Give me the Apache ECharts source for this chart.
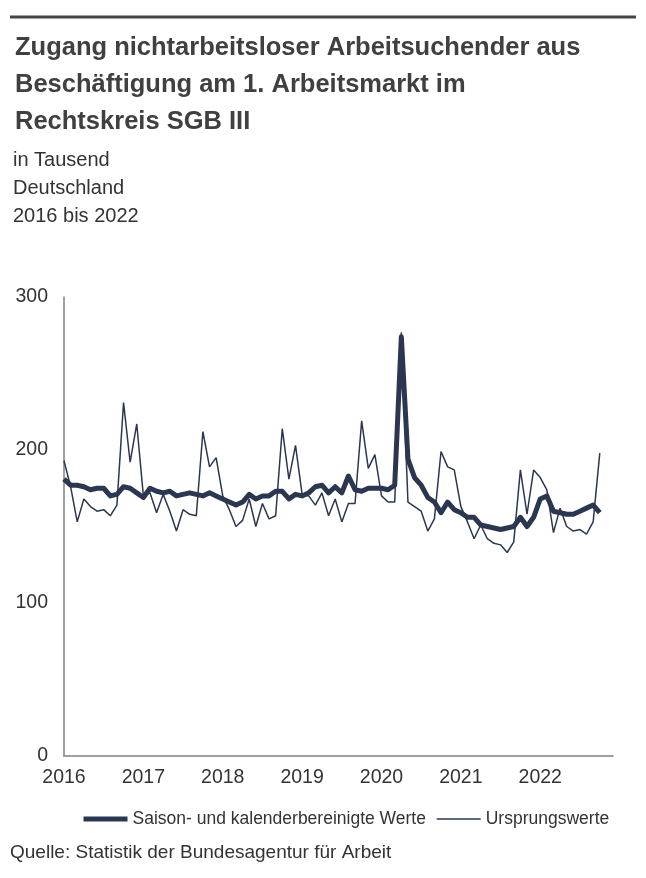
<!DOCTYPE html>
<html>
<head>
<meta charset="utf-8">
<script src="https://cdn.jsdelivr.net/npm/echarts@6/dist/echarts.min.js"></script>
<style>
html,body{margin:0;padding:0;background:#fff;}
#chart{width:646px;height:878px;}
</style>
</head>
<body>
<div id="chart"></div>
<script>
// Monthly categories Jan 2016 .. Dec 2022 (data through Oct 2022)
var years = [2016, 2017, 2018, 2019, 2020, 2021, 2022];
var categories = [];
years.forEach(function (y) {
  for (var m = 1; m <= 12; m++) categories.push(y + '-' + (m < 10 ? '0' + m : m));
});

// Saison- und kalenderbereinigte Werte (in Tausend)
var saisonWerte = [
  181, 177, 177, 176, 174, 175, 175, 170, 171, 176, 175, 172,
  169, 175, 173, 172, 173, 170, 171, 172, 171, 170, 172, 170,
  168, 166, 164, 166, 171, 168, 170, 170, 173, 173, 168, 171,
  170, 172, 176, 177, 172, 176, 172, 183, 174, 173, 175, 175,
  175, 174, 177, 274, 194, 182, 177, 169, 166, 159, 166, 161,
  159, 156, 156, 151, 150, 149, 148, 149, 150, 156, 150, 156,
  168, 170, 160, 159, 158, 158, 160, 162, 164, 159
];

// Ursprungswerte (in Tausend)
var ursprungsWerte = [
  193, 176, 153, 168, 163, 160, 161, 157, 164, 231, 192, 217,
  170, 172, 159, 171, 160, 147, 161, 158, 157, 212, 189, 195,
  170, 161, 150, 154, 168, 150, 165, 155, 157, 214, 181, 203,
  171, 170, 164, 172, 157, 168, 153, 165, 165, 219, 188, 197,
  170, 166, 166, 277, 166, 163, 160, 147, 155, 199, 189, 187,
  163, 153, 142, 151, 142, 139, 138, 133, 140, 187, 158, 187,
  182, 174, 146, 162, 150, 147, 148, 145, 153, 198
];

var yTicks = [0, 100, 200, 300];

var lineColor = '#2b3650';
var font = '"Liberation Sans", Arial, sans-serif';
var hiddenSymbol = {opacity: 0, color: 'rgba(0,0,0,0)', borderWidth: 0};

var chart = echarts.init(document.getElementById('chart'), null, {renderer: 'canvas'});
chart.setOption({
  backgroundColor: '#ffffff',
  animation: false,
  title: [
    {
      text: 'Zugang nichtarbeitsloser Arbeitsuchender aus\nBeschäftigung am 1. Arbeitsmarkt im\nRechtskreis SGB III',
      left: 10, top: 24,
      textStyle: {fontFamily: font, fontSize: 25.5, fontWeight: 'bold', color: '#404040', lineHeight: 37}
    },
    {
      text: 'in Tausend\nDeutschland\n2016 bis 2022',
      left: 8, top: 141,
      textStyle: {fontFamily: font, fontSize: 20, fontWeight: 'normal', color: '#333333', lineHeight: 28}
    },
    {
      text: 'Quelle: Statistik der Bundesagentur für Arbeit',
      left: 5, top: 838,
      textStyle: {fontFamily: font, fontSize: 19, fontWeight: 'normal', color: '#333333'}
    }
  ],
  graphic: [
    {
      type: 'line',
      shape: {x1: 10, y1: 17, x2: 636, y2: 17},
      style: {stroke: '#454545', lineWidth: 3}
    }
  ],
  legend: {
    left: 76, top: 805,
    itemWidth: 44, itemHeight: 14, itemGap: 10,
    textStyle: {fontFamily: font, fontSize: 17.5, color: '#333333'},
    data: [
      {name: 'Saison- und kalenderbereinigte Werte', lineStyle: {width: 5, color: lineColor}, itemStyle: hiddenSymbol},
      {name: 'Ursprungswerte', lineStyle: {width: 1.5, color: lineColor}, itemStyle: hiddenSymbol}
    ]
  },
  grid: {left: 64, right: 33, top: 297, bottom: 122, containLabel: false},
  xAxis: {
    type: 'category',
    data: categories,
    boundaryGap: false,
    axisLine: {show: true, lineStyle: {color: '#808080', width: 1.5}},
    axisTick: {show: false},
    splitLine: {show: false},
    axisLabel: {
      interval: function (idx) { return idx % 12 === 0; },
      formatter: function (v) { return v.slice(0, 4); },
      fontFamily: font, fontSize: 19.5, color: '#333333', margin: 12
    }
  },
  yAxis: {
    type: 'value',
    min: yTicks[0], max: yTicks[yTicks.length - 1], interval: 100,
    axisLine: {show: true, lineStyle: {color: '#808080', width: 1.5}},
    axisTick: {show: false},
    splitLine: {show: false},
    axisLabel: {fontFamily: font, fontSize: 19.5, color: '#333333', margin: 16}
  },
  series: [
    {
      name: 'Ursprungswerte',
      type: 'line',
      data: ursprungsWerte,
      showSymbol: false, symbol: 'none',
      lineStyle: {width: 1.5, color: lineColor},
      itemStyle: {color: lineColor},
      z: 2
    },
    {
      name: 'Saison- und kalenderbereinigte Werte',
      type: 'line',
      data: saisonWerte,
      showSymbol: false, symbol: 'none',
      lineStyle: {width: 5, color: lineColor, join: 'round'},
      itemStyle: {color: lineColor},
      z: 3
    }
  ]
});
</script>
</body>
</html>
